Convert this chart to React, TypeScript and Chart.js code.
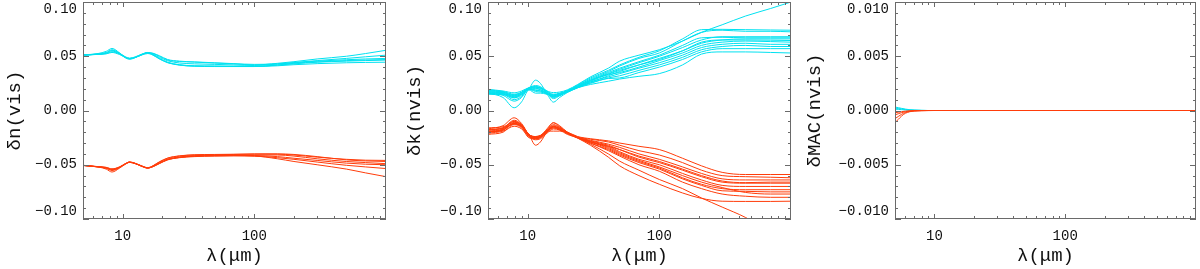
import React, { useEffect, useRef } from 'react';
import { Chart, registerables } from 'chart.js';

Chart.register(...registerables);

// ---------- shared axis data ----------
const X_TICKS = [5, 6, 7, 8, 9, 10, 20, 30, 40, 50, 60, 70, 80, 90, 100, 200, 300, 400, 500, 600, 700, 800, 900];
const X_LABELED = [10, 100];
const Y_TICKS_K = [-0.1, -0.09, -0.08, -0.07, -0.06, -0.05, -0.04, -0.03, -0.02, -0.01, 0, 0.01, 0.02, 0.03, 0.04, 0.05, 0.06, 0.07, 0.08, 0.09, 0.1];
const Y_TICKS_MAC = [-0.01, -0.009, -0.008, -0.007, -0.006, -0.005, -0.004, -0.003, -0.002, -0.001, 0, 0.001, 0.002, 0.003, 0.004, 0.005, 0.006, 0.007, 0.008, 0.009, 0.01];

// ---------- panel 1 : delta n (vis) ----------
const X1 = [5, 6.5, 7.5, 8.3, 9.5, 10.5, 11.3, 12.5, 14, 15.5, 17, 19, 22, 27, 35, 50, 70, 100, 150, 200, 300, 500, 700, 1000];
const DN_C1 = [0.0512, 0.0525, 0.0545, 0.0572, 0.053, 0.049, 0.0478, 0.049, 0.0515, 0.0532, 0.0525, 0.05, 0.0465, 0.0452, 0.0446, 0.0437, 0.043, 0.042, 0.0435, 0.045, 0.0475, 0.05, 0.0525, 0.0555];
const DN_C2 = [0.0512, 0.052, 0.053, 0.0555, 0.0525, 0.0495, 0.0482, 0.0495, 0.052, 0.0535, 0.0528, 0.0505, 0.047, 0.0455, 0.0448, 0.044, 0.0432, 0.0425, 0.043, 0.0442, 0.046, 0.048, 0.0495, 0.051];
const DN_C3 = [0.051, 0.0518, 0.0525, 0.054, 0.052, 0.0485, 0.0472, 0.0488, 0.0515, 0.053, 0.0515, 0.048, 0.0445, 0.042, 0.041, 0.041, 0.0408, 0.0408, 0.0418, 0.043, 0.0445, 0.0455, 0.046, 0.0465];
const DN_C4 = [0.051, 0.0517, 0.0522, 0.0535, 0.0515, 0.049, 0.0478, 0.049, 0.0512, 0.0525, 0.051, 0.0475, 0.044, 0.0418, 0.0408, 0.0405, 0.0405, 0.0405, 0.042, 0.0435, 0.0448, 0.046, 0.0465, 0.047];
const DN_C5 = [0.0512, 0.052, 0.0535, 0.056, 0.0528, 0.0492, 0.048, 0.0492, 0.0518, 0.0533, 0.052, 0.049, 0.0458, 0.0438, 0.043, 0.0425, 0.042, 0.0415, 0.0428, 0.044, 0.0455, 0.0468, 0.0475, 0.048];
const DN_C6 = [0.0511, 0.0519, 0.0528, 0.0548, 0.0522, 0.0488, 0.0476, 0.0489, 0.0514, 0.0529, 0.0512, 0.0478, 0.0442, 0.0422, 0.0412, 0.0408, 0.0406, 0.0406, 0.0412, 0.0422, 0.0432, 0.044, 0.0443, 0.0445];
const DN_R1 = [-0.0506, -0.052, -0.054, -0.0567, -0.053, -0.0495, -0.0478, -0.049, -0.0515, -0.053, -0.0518, -0.049, -0.0455, -0.0435, -0.0425, -0.042, -0.0418, -0.042, -0.0445, -0.047, -0.05, -0.054, -0.0575, -0.061];
const DN_R2 = [-0.0506, -0.0518, -0.0525, -0.054, -0.052, -0.049, -0.0475, -0.0488, -0.0512, -0.0528, -0.051, -0.0475, -0.044, -0.042, -0.041, -0.0408, -0.0405, -0.0402, -0.04, -0.0405, -0.0425, -0.0455, -0.0465, -0.047];
const DN_R3 = [-0.0506, -0.0519, -0.053, -0.0548, -0.0524, -0.0492, -0.0477, -0.0489, -0.0513, -0.0529, -0.0514, -0.0482, -0.0448, -0.0428, -0.0416, -0.0412, -0.041, -0.041, -0.041, -0.042, -0.0445, -0.047, -0.048, -0.049];
const DN_R4 = [-0.0507, -0.052, -0.0528, -0.0545, -0.0522, -0.0491, -0.0476, -0.049, -0.0514, -0.053, -0.0516, -0.0485, -0.0452, -0.0432, -0.042, -0.0415, -0.0413, -0.0415, -0.0425, -0.044, -0.046, -0.0485, -0.0495, -0.05];
const DN_R5 = [-0.0506, -0.052, -0.0532, -0.0553, -0.0526, -0.0493, -0.0478, -0.049, -0.0515, -0.0531, -0.0517, -0.0488, -0.0453, -0.0433, -0.0422, -0.0418, -0.0416, -0.042, -0.0435, -0.045, -0.0475, -0.0505, -0.052, -0.0535];
const DN_R6 = [-0.0505, -0.0517, -0.0524, -0.0538, -0.0519, -0.0489, -0.0474, -0.0487, -0.0511, -0.0527, -0.0509, -0.0473, -0.0438, -0.0418, -0.0408, -0.0405, -0.0403, -0.04, -0.0402, -0.041, -0.043, -0.045, -0.0458, -0.046];

// ---------- panel 2 : delta k (nvis) ----------
const X2 = [5, 6.5, 7.9, 9, 10.2, 11.5, 12.5, 14, 15.7, 17.5, 20, 24, 30, 41, 50, 70, 100, 150, 209, 300, 450, 700, 1000];
const DK_C1 = [0.0195, 0.018, 0.0163, 0.018, 0.021, 0.022, 0.021, 0.018, 0.0165, 0.017, 0.019, 0.024, 0.031, 0.039, 0.0455, 0.051, 0.056, 0.064, 0.072, 0.079, 0.087, 0.094, 0.1];
const DK_C2 = [0.019, 0.0175, 0.015, 0.017, 0.021, 0.023, 0.022, 0.018, 0.015, 0.016, 0.0185, 0.0235, 0.03, 0.037, 0.042, 0.049, 0.055, 0.066, 0.0745, 0.0748, 0.0745, 0.0742, 0.074];
const DK_C3 = [0.018, 0.017, 0.0135, 0.0165, 0.0205, 0.022, 0.021, 0.0175, 0.014, 0.0155, 0.018, 0.023, 0.029, 0.036, 0.041, 0.048, 0.053, 0.064, 0.072, 0.074, 0.073, 0.073, 0.0725];
const DK_C4 = [0.017, 0.016, 0.0117, 0.015, 0.02, 0.028, 0.025, 0.016, 0.012, 0.014, 0.0175, 0.0225, 0.028, 0.034, 0.038, 0.044, 0.05, 0.058, 0.065, 0.068, 0.068, 0.068, 0.068];
const DK_C5 = [0.016, 0.012, 0.0025, 0.008, 0.019, 0.02, 0.019, 0.015, 0.0077, 0.012, 0.0165, 0.021, 0.026, 0.032, 0.036, 0.042, 0.048, 0.055, 0.062, 0.065, 0.066, 0.066, 0.066];
const DK_C6 = [0.0165, 0.014, 0.0086, 0.012, 0.0195, 0.019, 0.018, 0.0155, 0.011, 0.0135, 0.017, 0.0215, 0.027, 0.033, 0.035, 0.04, 0.046, 0.053, 0.06, 0.063, 0.064, 0.0635, 0.063];
const DK_C7 = [0.0175, 0.0155, 0.01, 0.013, 0.02, 0.0205, 0.0195, 0.016, 0.0125, 0.014, 0.0175, 0.022, 0.0265, 0.031, 0.034, 0.039, 0.044, 0.051, 0.058, 0.061, 0.062, 0.061, 0.061];
const DK_C8 = [0.015, 0.0145, 0.0117, 0.014, 0.0195, 0.0175, 0.017, 0.0155, 0.013, 0.0145, 0.017, 0.021, 0.025, 0.03, 0.032, 0.037, 0.042, 0.049, 0.056, 0.059, 0.06, 0.059, 0.059];
const DK_C9 = [0.0155, 0.015, 0.013, 0.015, 0.019, 0.016, 0.016, 0.015, 0.0135, 0.015, 0.017, 0.0215, 0.0255, 0.0295, 0.03, 0.035, 0.04, 0.047, 0.054, 0.057, 0.057, 0.057, 0.057];
const DK_C10 = [0.016, 0.0155, 0.014, 0.0155, 0.0195, 0.0185, 0.018, 0.016, 0.014, 0.0155, 0.0175, 0.021, 0.024, 0.027, 0.029, 0.0315, 0.034, 0.042, 0.052, 0.054, 0.054, 0.0535, 0.053];
const DK_C11 = [0.0185, 0.017, 0.0145, 0.0165, 0.0205, 0.021, 0.0205, 0.017, 0.0145, 0.0155, 0.018, 0.0225, 0.028, 0.035, 0.039, 0.045, 0.051, 0.06, 0.067, 0.0675, 0.067, 0.067, 0.067];
const DK_C12 = [0.017, 0.0165, 0.0125, 0.0155, 0.02, 0.0215, 0.0205, 0.0165, 0.013, 0.0145, 0.0175, 0.022, 0.0275, 0.0335, 0.037, 0.042, 0.047, 0.055, 0.063, 0.065, 0.065, 0.0648, 0.0645];
const DK_R1 = [-0.017, -0.014, -0.0067, -0.012, -0.022, -0.024, -0.023, -0.018, -0.0113, -0.015, -0.02, -0.025, -0.031, -0.04, -0.0467, -0.055, -0.0636, -0.072, -0.0806, -0.089, -0.0985, -0.112, -0.125];
const DK_R2 = [-0.018, -0.016, -0.01, -0.014, -0.023, -0.025, -0.024, -0.019, -0.014, -0.016, -0.0205, -0.0255, -0.032, -0.043, -0.051, -0.06, -0.068, -0.076, -0.081, -0.0836, -0.0838, -0.0838, -0.0836];
const DK_R3 = [-0.02, -0.018, -0.012, -0.015, -0.023, -0.026, -0.025, -0.02, -0.015, -0.017, -0.021, -0.0255, -0.03, -0.037, -0.042, -0.05, -0.056, -0.066, -0.072, -0.077, -0.079, -0.08, -0.08];
const DK_R4 = [-0.02, -0.018, -0.012, -0.015, -0.022, -0.032, -0.029, -0.02, -0.015, -0.017, -0.021, -0.025, -0.029, -0.035, -0.04, -0.047, -0.053, -0.062, -0.068, -0.072, -0.073, -0.073, -0.073];
const DK_R5 = [-0.021, -0.019, -0.0145, -0.017, -0.024, -0.027, -0.026, -0.021, -0.017, -0.018, -0.021, -0.025, -0.0285, -0.033, -0.038, -0.045, -0.05, -0.058, -0.064, -0.069, -0.07, -0.07, -0.07];
const DK_R6 = [-0.019, -0.017, -0.01, -0.014, -0.023, -0.025, -0.024, -0.019, -0.015, -0.017, -0.0205, -0.025, -0.028, -0.032, -0.036, -0.043, -0.048, -0.055, -0.061, -0.066, -0.067, -0.067, -0.067];
const DK_R7 = [-0.022, -0.02, -0.013, -0.016, -0.025, -0.026, -0.025, -0.02, -0.016, -0.018, -0.022, -0.025, -0.0275, -0.031, -0.034, -0.04, -0.045, -0.052, -0.058, -0.063, -0.064, -0.064, -0.064];
const DK_R8 = [-0.016, -0.015, -0.011, -0.013, -0.022, -0.024, -0.023, -0.019, -0.019, -0.019, -0.02, -0.024, -0.026, -0.028, -0.03, -0.033, -0.036, -0.044, -0.051, -0.057, -0.059, -0.059, -0.059];
const DK_R9 = [-0.018, -0.0165, -0.0125, -0.0145, -0.0225, -0.0245, -0.0235, -0.0185, -0.016, -0.0175, -0.0205, -0.0245, -0.0265, -0.029, -0.032, -0.037, -0.041, -0.048, -0.055, -0.06, -0.061, -0.0615, -0.062];
const DK_R10 = [-0.0195, -0.0175, -0.0115, -0.015, -0.0235, -0.0255, -0.0245, -0.0195, -0.0145, -0.0165, -0.021, -0.025, -0.029, -0.034, -0.039, -0.046, -0.052, -0.06, -0.066, -0.071, -0.0755, -0.077, -0.077];
const DK_R11 = [-0.02, -0.018, -0.012, -0.014, -0.0235, -0.026, -0.024, -0.017, -0.0113, -0.014, -0.02, -0.025, -0.03, -0.036, -0.041, -0.048, -0.054, -0.063, -0.069, -0.074, -0.0745, -0.075, -0.075];
const DK_R12 = [-0.0175, -0.016, -0.009, -0.013, -0.022, -0.0245, -0.0235, -0.0185, -0.013, -0.0155, -0.02, -0.0245, -0.029, -0.033, -0.036, -0.042, -0.047, -0.054, -0.06, -0.065, -0.0665, -0.066, -0.066];

// ---------- panel 3 : delta MAC (nvis) ----------
const X3 = [5, 5.3, 5.6, 6, 6.5, 7, 8, 9, 10, 14, 20, 50, 100, 1000];
const MAC_C1 = [0.00032, 0.00026, 0.0002, 0.00013, 0.00007, 0.00004, 0.00001, 0, 0, 0, 0, 0, 0, 0];
const MAC_C2 = [0.00022, 0.00018, 0.00014, 0.00009, 0.00005, 0.00003, 0.00001, 0, 0, 0, 0, 0, 0, 0];
const MAC_C3 = [0.00012, 0.0001, 0.00008, 0.00005, 0.00003, 0.00002, 0.00001, 0, 0, 0, 0, 0, 0, 0];
const MAC_R1 = [-0.00112, -0.00082, -0.00052, -0.00026, -0.00011, -0.00005, -0.00002, -0.00001, 0, 0, 0, 0, 0, 0];
const MAC_R2 = [-0.00075, -0.00055, -0.00036, -0.00019, -0.00008, -0.00004, -0.00001, 0, 0, 0, 0, 0, 0, 0];
const MAC_R3 = [-0.0004, -0.0003, -0.0002, -0.00011, -0.00005, -0.00002, -0.00001, 0, 0, 0, 0, 0, 0, 0];
const MAC_R4 = [-0.0002, -0.00016, -0.00011, -0.00006, -0.00003, -0.00001, 0, 0, 0, 0, 0, 0, 0, 0];

const DN_CYAN = [DN_C1, DN_C2, DN_C3, DN_C4, DN_C5, DN_C6];
const DN_RED = [DN_R1, DN_R2, DN_R3, DN_R4, DN_R5, DN_R6];
const DK_CYAN = [DK_C1, DK_C2, DK_C3, DK_C4, DK_C5, DK_C6, DK_C7, DK_C8, DK_C9, DK_C10, DK_C11, DK_C12];
const DK_RED = [DK_R1, DK_R2, DK_R3, DK_R4, DK_R5, DK_R6, DK_R7, DK_R8, DK_R9, DK_R10, DK_R11, DK_R12];
const MAC_CYAN = [MAC_C1, MAC_C2, MAC_C3];
const MAC_RED = [MAC_R1, MAC_R2, MAC_R3, MAC_R4];

// ---------- styles ----------
const CYAN = '#00e1f0';
const RED = '#ff3c0a';
const FRAME = '#6a6a6a';
const TEXT = '#111111';
const FONT = 'Liberation Mono';

const frameAndTicks = {
  id: 'frameAndTicks',
  afterDatasetsDraw(chart: any, _args: any, opts: any) {
    const { ctx, chartArea: a } = chart;
    const xs = chart.scales.x;
    const ys = chart.scales.y;
    ctx.save();
    ctx.strokeStyle = FRAME;
    ctx.lineWidth = 1;
    ctx.beginPath();
    for (const t of xs.ticks) {
      const px = Math.round(xs.getPixelForValue(t.value)) + 0.5;
      const lg = Math.log10(t.value);
      const major = Math.abs(lg - Math.round(lg)) < 1e-9;
      const len = major ? 5 : 3;
      ctx.moveTo(px, a.bottom);
      ctx.lineTo(px, a.bottom - len);
      ctx.moveTo(px, a.top);
      ctx.lineTo(px, a.top + len);
    }
    for (const t of ys.ticks) {
      const py = Math.round(ys.getPixelForValue(t.value)) + 0.5;
      const r = t.value / opts.major;
      const major = Math.abs(r - Math.round(r)) < 1e-6;
      const len = major ? 6 : 3;
      ctx.moveTo(a.left, py);
      ctx.lineTo(a.left + len, py);
      ctx.moveTo(a.right, py);
      ctx.lineTo(a.right - len, py);
    }
    ctx.stroke();
    ctx.strokeRect(Math.round(a.left) + 0.5, Math.round(a.top) + 0.5, Math.round(a.width) - 1, Math.round(a.height) - 1);
    ctx.restore();
  },
};

type PanelProps = {
  offset: number;
  areaLeft: number;
  areaRight: number;
  xs: number[];
  cyan: number[][];
  red: number[][];
  yLim: number;
  yTicks: number[];
  yMajor: number;
  decimals: number;
  yTitle: string;
};

function Panel(p: PanelProps) {
  const ref = useRef<HTMLCanvasElement | null>(null);
  useEffect(() => {
    if (!ref.current) return;
    const mk = (vals: number[], color: string) => ({
      data: p.xs.map((x, i) => ({ x, y: vals[i] })),
      borderColor: color,
      borderWidth: 1,
      pointRadius: 0,
      fill: false,
      cubicInterpolationMode: 'monotone' as const,
    });
    // dataset 0 is painted last (on top): red first so it sits above cyan
    const datasets = [...p.red.map((v) => mk(v, RED)), ...p.cyan.map((v) => mk(v, CYAN))];
    const fmt = (v: number) => {
      const s = Math.abs(v).toFixed(p.decimals);
      return v < -1e-12 ? '\u2212' + s : s;
    };
    const chart = new Chart(ref.current, {
      type: 'line',
      data: { datasets },
      plugins: [frameAndTicks],
      options: {
        responsive: false,
        animation: false,
        devicePixelRatio: 1,
        layout: { padding: { left: 0, right: 400 - p.areaRight, top: 2, bottom: 0 } },
        plugins: {
          legend: { display: false },
          tooltip: { enabled: false },
          frameAndTicks: { major: p.yMajor },
        } as any,
        scales: {
          x: {
            type: 'logarithmic',
            min: 5,
            max: 1000,
            grid: { display: false, drawTicks: false },
            border: { display: false },
            afterBuildTicks: (s: any) => {
              s.ticks = X_TICKS.map((v) => ({ value: v }));
            },
            afterFit: (s: any) => {
              s.height = 50;
              s.paddingLeft = 0;
              s.paddingRight = 0;
            },
            ticks: {
              autoSkip: false,
              maxRotation: 0,
              minRotation: 0,
              padding: 9,
              color: TEXT,
              font: { family: FONT, size: 14 },
              callback: (v: any) => (X_LABELED.includes(Number(v)) ? String(v) : ''),
            },
            title: {
              display: true,
              text: '\u03bb(\u03bcm)',
              color: TEXT,
              font: { family: FONT, size: 19 },
              padding: { top: 0, bottom: 1.6 },
            },
          },
          y: {
            type: 'linear',
            min: -p.yLim,
            max: p.yLim,
            grid: { display: false, drawTicks: false },
            border: { display: false },
            afterBuildTicks: (s: any) => {
              s.ticks = p.yTicks.map((v) => ({ value: v }));
            },
            afterFit: (s: any) => {
              s.width = p.areaLeft;
              s.paddingTop = 0;
              s.paddingBottom = 0;
            },
            ticks: {
              autoSkip: false,
              padding: 6,
              color: TEXT,
              font: { family: FONT, size: 14, lineHeight: 1.05 },
              callback: (v: any) => {
                const n = Number(v);
                const r = n / p.yMajor;
                if (Math.abs(r - Math.round(r)) > 1e-6) return '';
                const s = fmt(n);
                // end labels sit inside the frame, as in the original plot
                if (Math.abs(n - p.yLim) < 1e-9) return ['', s];
                if (Math.abs(n + p.yLim) < 1e-9) return [s, ''];
                return s;
              },
            },
            title: {
              display: true,
              text: p.yTitle,
              color: TEXT,
              font: { family: FONT, size: 19 },
              padding: { top: 3.6, bottom: 0 },
            },
          },
        },
      } as any,
    });
    return () => chart.destroy();
  }, []);
  return (
    <canvas
      ref={ref}
      width={400}
      height={269}
      style={{ position: 'absolute', left: p.offset, top: 0, width: 400, height: 269 }}
    />
  );
}

export default function App() {
  return (
    <div style={{ position: 'absolute', left: 0, top: 0, width: 1200, height: 269, background: '#fff' }}>
      <Panel offset={0} areaLeft={83} areaRight={386} xs={X1} cyan={DN_CYAN} red={DN_RED} yLim={0.1} yTicks={Y_TICKS_K} yMajor={0.05} decimals={2} yTitle={'\u03b4n(vis)'} />
      <Panel offset={400} areaLeft={88} areaRight={391} xs={X2} cyan={DK_CYAN} red={DK_RED} yLim={0.1} yTicks={Y_TICKS_K} yMajor={0.05} decimals={2} yTitle={'\u03b4k(nvis)'} />
      <Panel offset={800} areaLeft={95} areaRight={396} xs={X3} cyan={MAC_CYAN} red={MAC_RED} yLim={0.01} yTicks={Y_TICKS_MAC} yMajor={0.005} decimals={3} yTitle={'\u03b4MAC(nvis)'} />
    </div>
  );
}
